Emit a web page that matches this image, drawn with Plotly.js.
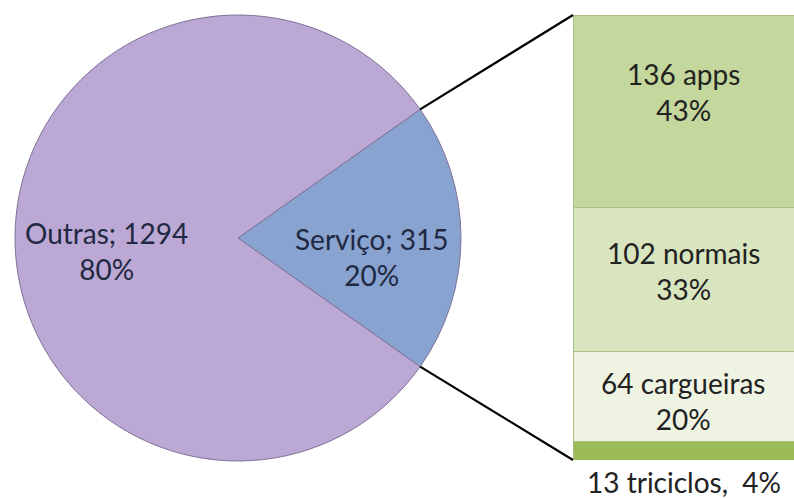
<!DOCTYPE html>
<html>
<head>
<meta charset="utf-8">
<script src="https://cdn.plot.ly/plotly-3.0.1.min.js"></script>
<style>html,body{margin:0;padding:0;background:#fff}</style>
</head>
<body>
<div id="chart" style="width:794px;height:498px"></div>
<script>
// ---- data ----
const pieLabels = ['Serviço', 'Outras'];
const pieValues = [315, 1294];
const barLabels = ['13 triciclos', '64 cargueiras', '102 normais', '136 apps'];
const barValues = [13, 64, 102, 136];
const barPctLabels = ['4%', '20%', '33%', '43%'];

// ---- styles ----
const W = 794, H = 498;
const FONT = 'Lato, "Open Sans", sans-serif';
const FSIZE = 28;
const pieColors = ['#89a3d1', '#bba8d4'];
const barColors = ['#9bbb59', '#eff4e2', '#d8e5be', '#c4d79d'];
const labelShift = [0, -5, 8, 19];

const pieDomX = [15 / W, 461 / W];
const pieDomY = [(H - 461) / H, (H - 15) / H];
const barDomX = [573 / W, 1];
const barDomY = [(H - 460) / H, (H - 15) / H];

const total = pieValues.reduce((a, b) => a + b, 0);
const fracServ = pieValues[0] / total;
const halfAng = Math.PI * fracServ; // half of the Serviço wedge angle

const traces = [{
  type: 'pie',
  labels: pieLabels,
  values: pieValues,
  sort: false,
  direction: 'clockwise',
  rotation: 90 - 180 * fracServ,
  domain: {x: pieDomX, y: pieDomY},
  marker: {colors: pieColors, line: {color: '#7f7298', width: 1}},
  textinfo: 'none',
  hoverinfo: 'none',
  showlegend: false
}];

const barSum = barValues.reduce((a, b) => a + b, 0);
barValues.forEach((v, i) => {
  traces.push({
    type: 'bar',
    x: ['Serviço'],
    y: [v],
    name: barLabels[i],
    xaxis: 'x', yaxis: 'y',
    marker: {color: barColors[i], line: {color: '#aebf86', width: 1}},
    hoverinfo: 'none',
    showlegend: false
  });
});

// annotations
const annotations = [];
const pcx = (pieDomX[0] + pieDomX[1]) / 2;
const pcy = (pieDomY[0] + pieDomY[1]) / 2;
const rpx = (pieDomX[1] - pieDomX[0]) * W / 2;
const pctTxt = v => Math.round(100 * v / total) + '%';
// Serviço label (inside wedge)
annotations.push({
  xref: 'paper', yref: 'paper', xanchor: 'center', yanchor: 'middle',
  x: pcx + 0.6 * rpx / W, y: pcy - 19 / H,
  text: pieLabels[0] + '; ' + pieValues[0] + '<br>' + pctTxt(pieValues[0]),
  showarrow: false, font: {family: FONT, size: FSIZE, color: '#1f2942'}
});
// Outras label
annotations.push({
  xref: 'paper', yref: 'paper', xanchor: 'center', yanchor: 'middle',
  x: pcx - 0.59 * rpx / W, y: pcy - 13 / H,
  text: pieLabels[1] + '; ' + pieValues[1] + '<br>' + pctTxt(pieValues[1]),
  showarrow: false, font: {family: FONT, size: FSIZE, color: '#1f2942'}
});

let cum = 0;
barValues.forEach((v, i) => {
  if (i === 0) {
    annotations.push({
      xref: 'x', yref: 'y', x: 'Serviço', y: 0, xanchor: 'center', yanchor: 'top', yshift: -3,
      text: barLabels[i] + ',  ' + barPctLabels[i],
      showarrow: false, font: {family: FONT, size: FSIZE, color: '#222'}
    });
  } else {
    annotations.push({
      xref: 'x', yref: 'y', x: 'Serviço', y: cum + v / 2, xanchor: 'center', yanchor: 'middle', yshift: labelShift[i],
      text: barLabels[i] + '<br>' + barPctLabels[i],
      showarrow: false, font: {family: FONT, size: FSIZE, color: '#222'}
    });
  }
  cum += v;
});

// connector lines from the wedge edge to the bar corners
const ex = pcx + rpx * Math.cos(halfAng) / W;
const eyTop = pcy + rpx * Math.sin(halfAng) / H;
const eyBot = pcy - rpx * Math.sin(halfAng) / H;
const shapes = [
  {type: 'line', xref: 'paper', yref: 'paper', x0: ex, y0: eyTop, x1: barDomX[0], y1: barDomY[1], line: {color: '#000', width: 2.2}},
  {type: 'line', xref: 'paper', yref: 'paper', x0: ex, y0: eyBot, x1: barDomX[0], y1: barDomY[0], line: {color: '#000', width: 2.2}}
];

const layout = {
  width: W, height: H,
  margin: {l: 0, r: 0, t: 0, b: 0},
  paper_bgcolor: '#fff', plot_bgcolor: 'rgba(0,0,0,0)',
  barmode: 'stack', bargap: 0,
  xaxis: {domain: barDomX, visible: false, range: [-0.5, 0.5], fixedrange: true},
  yaxis: {domain: barDomY, visible: false, range: [0, barSum], fixedrange: true},
  annotations: annotations,
  shapes: shapes,
  showlegend: false
};

Plotly.newPlot('chart', traces, layout, {displayModeBar: false, staticPlot: true});
</script>
</body>
</html>
